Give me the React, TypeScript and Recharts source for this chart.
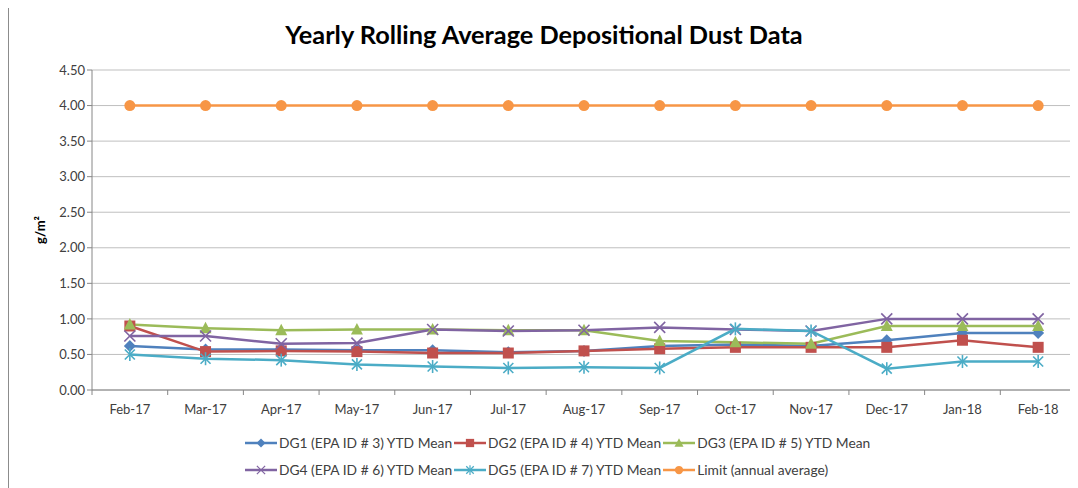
import React from 'react';
import { LineChart, Line, XAxis, YAxis, CartesianGrid, Label } from 'recharts';

const months = ['Feb-17', 'Mar-17', 'Apr-17', 'May-17', 'Jun-17', 'Jul-17', 'Aug-17', 'Sep-17', 'Oct-17', 'Nov-17', 'Dec-17', 'Jan-18', 'Feb-18'];
const dg1 = [0.62, 0.57, 0.57, 0.56, 0.56, 0.53, 0.55, 0.62, 0.64, 0.62, 0.70, 0.80, 0.80];
const dg2 = [0.90, 0.54, 0.55, 0.54, 0.52, 0.52, 0.55, 0.58, 0.60, 0.60, 0.60, 0.70, 0.60];
const dg3 = [0.92, 0.87, 0.84, 0.85, 0.85, 0.84, 0.84, 0.69, 0.67, 0.65, 0.90, 0.90, 0.90];
const dg4 = [0.76, 0.76, 0.65, 0.66, 0.85, 0.83, 0.84, 0.88, 0.85, 0.83, 1.00, 1.00, 1.00];
const dg5 = [0.50, 0.44, 0.42, 0.36, 0.33, 0.31, 0.32, 0.31, 0.86, 0.83, 0.30, 0.40, 0.40];
const limit = [4, 4, 4, 4, 4, 4, 4, 4, 4, 4, 4, 4, 4];
const yTicks = [0, 0.5, 1, 1.5, 2, 2.5, 3, 3.5, 4, 4.5];

const data = months.map((m, i) => ({
  month: m,
  dg1: dg1[i],
  dg2: dg2[i],
  dg3: dg3[i],
  dg4: dg4[i],
  dg5: dg5[i],
  limit: limit[i],
}));

const FONT = 'Lato, "Open Sans", sans-serif';
const CHART_W = 1070;
const PLOT_LEFT = 83;
const PLOT_RIGHT_MARGIN = 3;
const BAND = (CHART_W - PLOT_LEFT - PLOT_RIGHT_MARGIN) / months.length;

type Shape = 'diamond' | 'square' | 'triangle' | 'x' | 'star' | 'circle';

function Marker({ shape, cx, cy, color }: { shape: Shape; cx: number; cy: number; color: string }) {
  switch (shape) {
    case 'diamond':
      return <polygon points={`${cx},${cy - 6} ${cx + 6},${cy} ${cx},${cy + 6} ${cx - 6},${cy}`} fill={color} />;
    case 'square':
      return <rect x={cx - 5.5} y={cy - 5.5} width={11} height={11} fill={color} />;
    case 'triangle':
      return <polygon points={`${cx},${cy - 6.5} ${cx + 6},${cy + 5} ${cx - 6},${cy + 5}`} fill={color} />;
    case 'x':
      return (
        <g stroke={color} strokeWidth={1.6}>
          <line x1={cx - 5.5} y1={cy - 5.5} x2={cx + 5.5} y2={cy + 5.5} />
          <line x1={cx - 5.5} y1={cy + 5.5} x2={cx + 5.5} y2={cy - 5.5} />
        </g>
      );
    case 'star':
      return (
        <g stroke={color} strokeWidth={1.6}>
          <line x1={cx - 5} y1={cy - 5} x2={cx + 5} y2={cy + 5} />
          <line x1={cx - 5} y1={cy + 5} x2={cx + 5} y2={cy - 5} />
          <line x1={cx} y1={cy - 6.5} x2={cx} y2={cy + 6.5} />
        </g>
      );
    default:
      return <circle cx={cx} cy={cy} r={5.5} fill={color} />;
  }
}

const series: { key: string; name: string; color: string; shape: Shape }[] = [
  { key: 'dg1', name: 'DG1 (EPA ID # 3) YTD Mean', color: '#4F81BD', shape: 'diamond' },
  { key: 'dg2', name: 'DG2 (EPA ID # 4) YTD Mean', color: '#C0504D', shape: 'square' },
  { key: 'dg3', name: 'DG3 (EPA ID # 5) YTD Mean', color: '#9BBB59', shape: 'triangle' },
  { key: 'dg4', name: 'DG4 (EPA ID # 6) YTD Mean', color: '#8064A2', shape: 'x' },
  { key: 'dg5', name: 'DG5 (EPA ID # 7) YTD Mean', color: '#4BACC6', shape: 'star' },
  { key: 'limit', name: 'Limit (annual average)', color: '#F79646', shape: 'circle' },
];

function XTick(props: any) {
  const { x, y, payload, index } = props;
  const top = y - 8;
  return (
    <g>
      <line x1={x - BAND / 2} y1={top} x2={x - BAND / 2} y2={top + 5} stroke="#868686" />
      {index === months.length - 1 && (
        <line x1={x + BAND / 2} y1={top} x2={x + BAND / 2} y2={top + 5} stroke="#868686" />
      )}
      <text x={x} y={top + 24} textAnchor="middle" fontSize={13} fill="#404040" fontFamily={FONT}>
        {payload.value}
      </text>
    </g>
  );
}

function ChartLegend() {
  const rows = [series.slice(0, 3), series.slice(3)];
  return (
    <div style={{ position: 'absolute', left: 236, top: 421, fontFamily: FONT, fontSize: 13.8, color: '#404040' }}>
      {rows.map((row, r) => (
        <div key={r} style={{ display: 'flex', alignItems: 'center', height: 27 }}>
          {row.map((s) => (
            <div key={s.key} style={{ display: 'flex', alignItems: 'center', marginRight: 2 }}>
              <svg width={32} height={14}>
                <line x1={0} y1={7} x2={32} y2={7} stroke={s.color} strokeWidth={2.5} />
                <g transform="translate(16,7) scale(0.75) translate(-16,-7)">
                  <Marker shape={s.shape} cx={16} cy={7} color={s.color} />
                </g>
              </svg>
              <span style={{ marginLeft: 2 }}>{s.name}</span>
            </div>
          ))}
        </div>
      ))}
    </div>
  );
}

export default function App() {
  return (
    <div style={{ position: 'relative', width: CHART_W, height: 480, borderLeft: '1px solid #8c8c8c', background: '#fff' }}>
      <div
        style={{
          position: 'absolute',
          top: 11,
          left: 0,
          width: CHART_W,
          textAlign: 'center',
          fontFamily: FONT,
          fontWeight: 700,
          fontSize: 25.3,
          color: '#000',
          zIndex: 1,
        }}
      >
        Yearly Rolling Average Depositional Dust Data
      </div>
      <LineChart width={CHART_W} height={480} data={data} margin={{ top: 62, right: PLOT_RIGHT_MARGIN, left: 0, bottom: 68 }}>
        <CartesianGrid vertical={false} stroke="#BFBFBF" />
        <XAxis
          dataKey="month"
          scale="band"
          stroke="#868686"
          tickLine={false}
          height={30}
          tick={<XTick />}
          interval={0}
        />
        <YAxis
          width={PLOT_LEFT}
          domain={[0, 4.5]}
          ticks={yTicks}
          stroke="#868686"
          tickSize={5}
          tickFormatter={(v: number) => v.toFixed(2)}
          tick={{ fontSize: 13, fill: '#404040', fontFamily: FONT }}
        >
          <Label
            value="g/m²"
            angle={-90}
            position="insideLeft"
            offset={31}
            style={{ fontSize: 13, fontWeight: 700, fill: '#000', fontFamily: FONT, textAnchor: 'middle' }}
          />
        </YAxis>
        {series.map((s) => (
          <Line
            key={s.key}
            dataKey={s.key}
            name={s.name}
            stroke={s.color}
            strokeWidth={2.5}
            isAnimationActive={false}
            dot={(p: any) => <Marker key={`${s.key}-${p.index}`} shape={s.shape} cx={p.cx} cy={p.cy} color={s.color} />}
          />
        ))}
      </LineChart>
      <ChartLegend />
    </div>
  );
}
